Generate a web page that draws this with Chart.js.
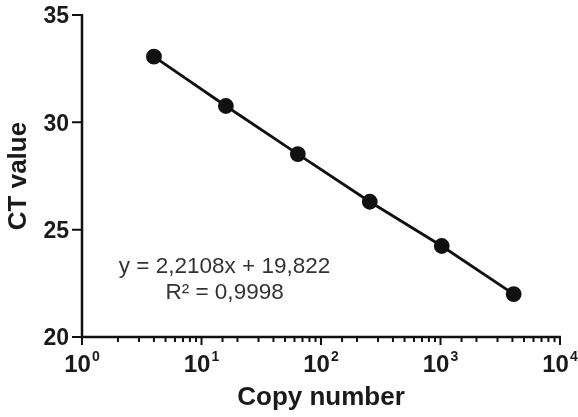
<!DOCTYPE html>
<html>
<head>
<meta charset="utf-8">
<script src="https://cdn.jsdelivr.net/npm/chart.js@4"></script>
<style>
  html, body { margin: 0; padding: 0; background: #fff; }
  #wrap { width: 578px; height: 417px; }
</style>
</head>
<body>
<div id="wrap"><canvas id="stdCurve"></canvas></div>
<script>
// standard curve data (copy number vs CT)
const copyNumbers = [4, 16, 64, 256, 1024, 4096];
const ctValues = [33.06, 30.76, 28.52, 26.3, 24.24, 22.0];
const yTicks = [20, 25, 30, 35];
const xDecades = [0, 1, 2, 3, 4];
const equationLines = ['y = 2,2108x + 19,822', 'R² = 0,9998'];
const xTitle = 'Copy number';
const yTitle = 'CT value';

const FONT = '"Liberation Sans", Arial, sans-serif';
const TXT = '#1a1a1a';

// draws axis lines, ticks, tick labels (10 with superscript), titles and the equation
const axesPlugin = {
    id: 'axesPlugin',
    afterDraw(chart) {
        const c = chart.ctx;
        const xs = chart.scales.x, ys = chart.scales.y;
        const area = chart.chartArea;
        c.save();
        c.strokeStyle = '#111';
        c.lineWidth = 2.5;
        c.beginPath();
        c.moveTo(area.left, area.top - 1);
        c.lineTo(area.left, area.bottom);
        c.lineTo(area.right + 1, area.bottom);
        c.stroke();

        // x ticks: majors longer than the minors
        c.lineWidth = 2;
        c.beginPath();
        xs.ticks.forEach(t => {
            const px = xs.getPixelForValue(t.value);
            const major = Math.abs(Math.log10(t.value) % 1) < 1e-9;
            c.moveTo(px, area.bottom);
            c.lineTo(px, area.bottom + (major ? 8 : 5));
        });
        yTicks.forEach(v => {
            const py = ys.getPixelForValue(v);
            c.moveTo(area.left, py);
            c.lineTo(area.left - 10, py);
        });
        c.stroke();

        c.fillStyle = TXT;
        // y tick labels
        c.font = 'bold 23px ' + FONT;
        c.textAlign = 'right';
        c.textBaseline = 'middle';
        yTicks.forEach(v => c.fillText(String(v), area.left - 13, ys.getPixelForValue(v) + 2));

        // x tick labels: "10" + exponent
        c.textAlign = 'left';
        c.textBaseline = 'alphabetic';
        xDecades.forEach(e => {
            const px = xs.getPixelForValue(Math.pow(10, e));
            c.font = 'bold 24px ' + FONT;
            const wBase = c.measureText('10').width;
            c.font = 'bold 14px ' + FONT;
            const wExp = c.measureText(String(e)).width;
            const x0 = px - (wBase + 1 + wExp) / 2;
            c.font = 'bold 24px ' + FONT;
            c.fillText('10', x0, area.bottom + 35);
            c.font = 'bold 14px ' + FONT;
            c.fillText(String(e), x0 + wBase + 1, area.bottom + 24);
        });

        // axis titles
        c.font = 'bold 26px ' + FONT;
        c.textAlign = 'center';
        c.textBaseline = 'middle';
        c.fillText(xTitle, (area.left + area.right) / 2, 398);
        c.save();
        c.translate(19, (area.top + area.bottom) / 2);
        c.rotate(-Math.PI / 2);
        c.fillText(yTitle, 0, 0);
        c.restore();

        // regression text
        c.fillStyle = '#333';
        c.font = '22.5px ' + FONT;
        const ex = xs.getPixelForValue(15.6);
        c.fillText(equationLines[0], ex, ys.getPixelForValue(23.27));
        c.fillText(equationLines[1], ex, ys.getPixelForValue(22.05));
        c.restore();
    }
};

new Chart(document.getElementById('stdCurve'), {
    type: 'scatter',
    data: {
        datasets: [{
            data: copyNumbers.map((v, i) => ({ x: v, y: ctValues[i] })),
            showLine: true,
            borderColor: '#111',
            backgroundColor: '#111',
            borderWidth: 2.8,
            pointRadius: 6.5,
            pointHoverRadius: 6.5
        }]
    },
    options: {
        responsive: true,
        maintainAspectRatio: false,
        animation: false,
        layout: { padding: { top: 15, right: 18, left: 0, bottom: 0 } },
        plugins: { legend: { display: false }, tooltip: { enabled: false } },
        scales: {
            x: {
                type: 'logarithmic',
                min: 1,
                max: 10000,
                border: { display: false },
                grid: { display: false },
                ticks: { display: false, autoSkip: false },
                afterFit: (s) => { s.height = 80; }
            },
            y: {
                min: 20,
                max: 35,
                border: { display: false },
                grid: { display: false },
                ticks: { display: false, stepSize: 5 },
                afterFit: (s) => { s.width = 82; }
            }
        }
    },
    plugins: [axesPlugin]
});
</script>
</body>
</html>
